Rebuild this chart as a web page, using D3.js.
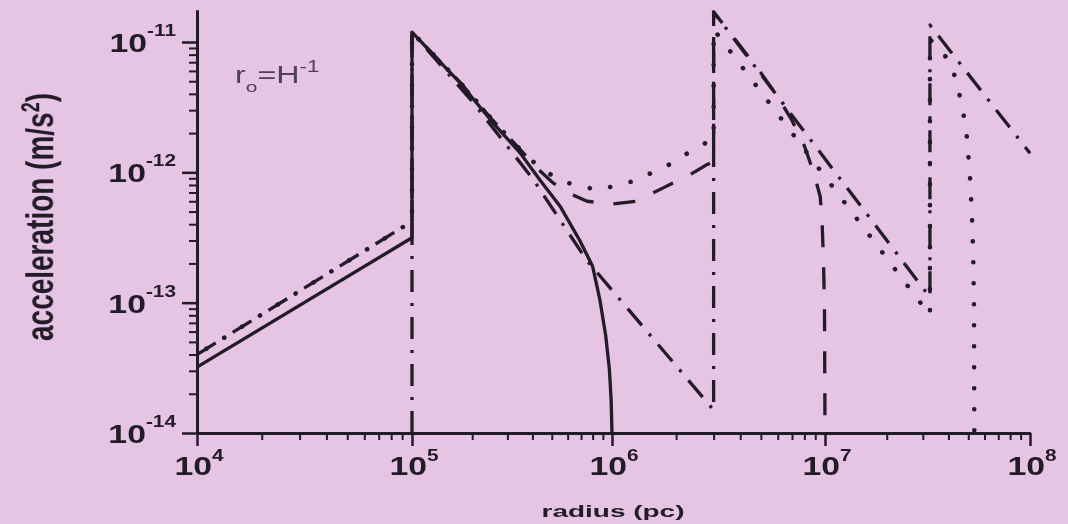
<!DOCTYPE html>
<html>
<head>
<meta charset="utf-8">
<script src="https://cdn.jsdelivr.net/npm/d3@7"></script>
<style>
  html, body { margin: 0; padding: 0; background: #e6c4e4; }
  svg { display: block; }
  text { font-family: "Liberation Sans", Arial, sans-serif; }
</style>
</head>
<body>
<script>
// values read off the figure : [radius (pc), acceleration (m/s^2)]
// a value of 1e-14 stands for "zero" (the curve falls onto the axis)
const solid = [
  [1e4, 3.2e-14], [1e5, 3.15e-13], [1e5, 1.19e-11], [1.74e5, 4.85e-12],
  [2.54e5, 2.4e-12], [3.47e5, 1.41e-12], [4.37e5, 8.7e-13], [5.5e5, 5.5e-13],
  [6.9e5, 3.0e-13], [8.0e5, 1.9e-13], [8.7e5, 1.05e-13], [9.3e5, 5.6e-14],
  [9.7e5, 3.1e-14], [9.9e5, 1.8e-14], [1e6, 1e-14]
];
const dashed = [
  [1e4, 4.0e-14], [1e5, 4.2e-13], [1e5, 1.19e-11], [1.74e5, 4.9e-12],
  [2.54e5, 2.5e-12], [3.47e5, 1.5e-12], [4.3e5, 1.05e-12], [5.07e5, 8.3e-13],
  [6e5, 7.0e-13], [7.5e5, 6.0e-13], [1e6, 5.7e-13], [1.3e6, 6.0e-13],
  [1.74e6, 7.6e-13], [2.3e6, 9.5e-13], [2.8e6, 1.15e-12], [3e6, 1.2e-12],
  [3e6, 1.7e-11], [4e6, 9.3e-12], [5e6, 5.8e-12], [6e6, 3.8e-12],
  [7e6, 2.5e-12], [8e6, 1.6e-12], [8.5e6, 1.2e-12], [9e6, 9e-13],
  [9.5e6, 6.5e-13], [9.7e6, 4e-13], [9.85e6, 2e-13], [9.95e6, 8e-14], [1e7, 1e-14]
];
const dashDot = [
  [1e5, 1e-14], [1e5, 1.19e-11], [2e5, 3.5e-12], [4e5, 9.0e-13], [7.5e5, 2.1e-13],
  [3e6, 1.5e-14], [3e6, 1.7e-11],
  [3.25e7, 1.1e-13], [3.25e7, 1.35e-11], [1e8, 1.4e-12]
];
const dotted = [
  [1e4, 4.0e-14], [1e5, 4.2e-13], [1e5, 1.19e-11], [1.74e5, 4.9e-12],
  [2.54e5, 2.5e-12], [3.2e5, 1.7e-12], [4.1e5, 1.18e-12], [5e5, 9.5e-13],
  [6e5, 8.3e-13], [8.5e5, 7.3e-13], [1.24e6, 8.5e-13], [1.78e6, 1.1e-12],
  [2.5e6, 1.55e-12], [3e6, 1.8e-12], [3e6, 1.25e-11], [3.25e7, 8e-14],
  [3.25e7, 1.05e-11], [4.1e7, 7.0e-12], [4.45e7, 4.5e-12], [4.7e7, 3.0e-12],
  [4.9e7, 2.0e-12], [5.0e7, 1.35e-12], [5.1e7, 9e-13], [5.2e7, 5e-13],
  [5.28e7, 2.5e-13], [5.33e7, 1e-13], [5.35e7, 1e-14]
];
const xTickExp = [4, 5, 6, 7, 8];
const yTickExp = [-11, -12, -13, -14];

const ink = '#231a27';
const svg = d3.select('body').append('svg').attr('width', 1068).attr('height', 524);

// a little softness, the original is a blurry scan
const blur = svg.append('defs').append('filter').attr('id', 'soft');
blur.append('feGaussianBlur').attr('stdDeviation', 0.45);
const plot = svg.append('g').attr('filter', 'url(#soft)');

// decades in the scanned figure are not quite even, so a piecewise log scale
const x = d3.scaleLog().domain([1e4, 1e5, 1e6, 1e7, 1e8]).range([197, 412, 612, 825, 1030]);
const y = d3.scaleLog().domain([1e-14, 1.76e-11]).range([433, 10]);

const major = e => Math.pow(10, e);
const minorsOf = exps => exps.flatMap(e => d3.range(2, 10).map(k => k * Math.pow(10, e)));

const xMinor = minorsOf([4, 5, 6, 7]);
const yMinor = minorsOf([-14, -13, -12]);

function styleAxis(g, w) {
  g.selectAll('path, line').attr('stroke', ink);
  g.select('.domain').attr('stroke-width', 3);
  g.selectAll('.tick line').attr('stroke-width', w);
  g.selectAll('.tick text').remove();
}

plot.append('g').attr('transform', 'translate(0,433)')
  .call(d3.axisBottom(x).tickValues(xMinor).tickSize(7).tickSizeOuter(0).tickFormat(''))
  .call(g => styleAxis(g, 2));
plot.append('g').attr('transform', 'translate(0,433)')
  .call(d3.axisBottom(x).tickValues(xTickExp.map(major)).tickSize(13).tickSizeOuter(0).tickFormat(''))
  .call(g => styleAxis(g, 2.5));
plot.append('g').attr('transform', 'translate(197,0)')
  .call(d3.axisLeft(y).tickValues(yMinor).tickSize(8).tickSizeOuter(0).tickFormat(''))
  .call(g => styleAxis(g, 2));
plot.append('g').attr('transform', 'translate(197,0)')
  .call(d3.axisLeft(y).tickValues(yTickExp.map(major)).tickSize(15).tickSizeOuter(0).tickFormat(''))
  .call(g => styleAxis(g, 2.5));

// tick labels 10^n (the figure is stretched sideways)
yTickExp.forEach(e => {
  const t = plot.append('g')
    .attr('transform', `translate(176,${y(major(e)) + 10}) scale(1.3,1)`)
    .append('text').attr('text-anchor', 'end').attr('font-weight', 'bold')
    .attr('font-size', 26).attr('fill', ink);
  t.append('tspan').text('10');
  t.append('tspan').attr('dy', -16).attr('font-size', 16).text(e);
});
xTickExp.forEach(e => {
  const t = plot.append('g')
    .attr('transform', `translate(${x(major(e)) + 2},475) scale(1.3,1)`)
    .append('text').attr('text-anchor', 'middle').attr('font-weight', 'bold')
    .attr('font-size', 26).attr('fill', ink);
  t.append('tspan').text('10');
  t.append('tspan').attr('dy', -14).attr('font-size', 16).text(e);
});

// axis titles
plot.append('text')
  .attr('x', 613).attr('y', 517)
  .attr('text-anchor', 'middle').attr('font-weight', 'bold').attr('font-size', 16.5)
  .attr('textLength', 143).attr('lengthAdjust', 'spacingAndGlyphs')
  .attr('fill', ink).text('radius (pc)');

const yl = plot.append('g')
  .attr('transform', 'translate(53,217) scale(1.4,1) rotate(-90)')
  .append('text').attr('text-anchor', 'middle').attr('font-weight', 'bold')
  .attr('font-size', 28).attr('fill', ink);
yl.append('tspan').text('acceleration (m/s');
yl.append('tspan').attr('dy', -10).attr('font-size', 18).text('2');
yl.append('tspan').attr('dy', 10).text(')');

// annotation r_o = H^-1
const ann = plot.append('g')
  .attr('transform', 'translate(235,83) scale(1.4,1)')
  .append('text').attr('font-size', 23).attr('fill', '#4f4054');
ann.append('tspan').text('r');
ann.append('tspan').attr('dy', 9).attr('font-size', 15).text('o');
ann.append('tspan').attr('dy', -9).text('=H');
ann.append('tspan').attr('dy', -11).attr('font-size', 16).text('-1');

// curves
const line = d3.line().x(d => x(d[0])).y(d => y(d[1]));

function curve(data, dash, opts = {}) {
  plot.append('path')
    .datum(data)
    .attr('d', line)
    .attr('fill', 'none')
    .attr('stroke', ink)
    .attr('stroke-width', opts.width || 3.3)
    .attr('stroke-linecap', opts.cap || 'butt')
    .attr('stroke-linejoin', 'round')
    .attr('stroke-dasharray', dash)
    .attr('stroke-dashoffset', opts.offset || 0);
}

curve(dashDot, '22,11,3,11');
curve(dotted, '0.1,20.9', { cap: 'round', width: 4.6, offset: 10 });
curve(dashed, '22,20');
curve(solid, null);
</script>
</body>
</html>
